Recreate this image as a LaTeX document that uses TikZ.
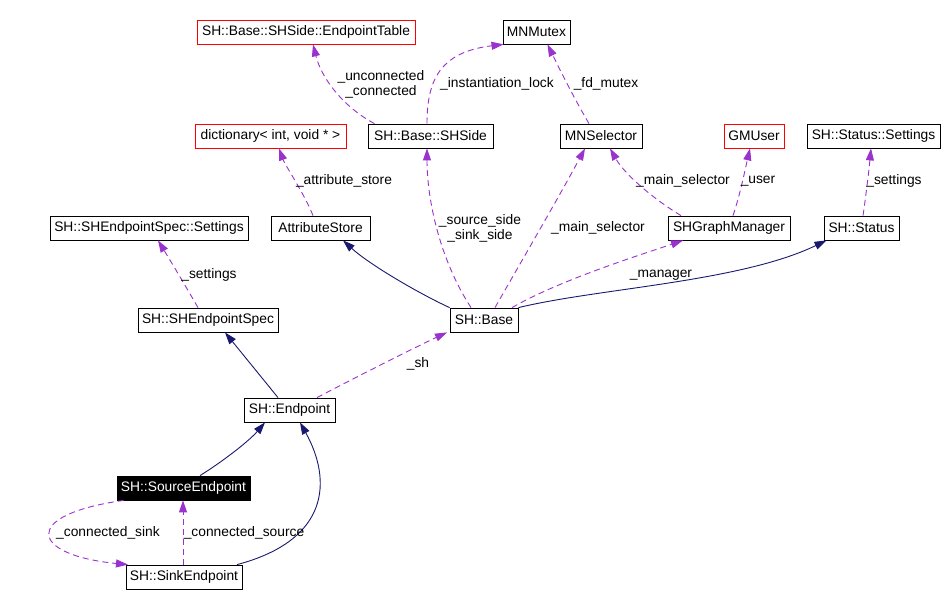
\documentclass[tikz,border=0pt]{standalone}
\usepackage{fontspec}
\setmainfont{Liberation Sans}
\usetikzlibrary{arrows.meta}
\definecolor{edgepurple}{HTML}{9A32CD}
\definecolor{edgenavy}{HTML}{191970}
\begin{document}
\begin{tikzpicture}[x=1pt,y=-1pt,
 cls/.style={draw=black, line width=0.8pt, minimum height=24pt, inner xsep=3pt, inner ysep=0pt, font=\fontsize{13.8}{15}\selectfont, text=black},
 redcls/.style={cls, draw=red},
 blackcls/.style={cls, fill=black, text=white},
 lbl/.style={font=\fontsize{13.8}{15}\selectfont, align=center, inner sep=0pt},
 usage/.style={draw=edgepurple, line width=0.9pt, dash pattern=on 6pt off 4pt, -{Triangle[length=12pt,width=8pt,fill=edgepurple]}},
 inherit/.style={draw=edgenavy, line width=0.9pt, -{Triangle[length=12pt,width=8pt,fill=edgenavy]}},
]
\useasboundingbox[fill=white] (0,0) rectangle (947,608);

% nodes
\node[redcls, minimum width=218pt] (tbl) at (306,32) {SH::Base::SHSide::EndpointTable};
\node[cls, minimum width=67pt] (mutex) at (536.5,32) {MNMutex};
\node[redcls, minimum width=151pt] (dict) at (270.5,136) {dictionary< int, void * >};
\node[cls, minimum width=125pt] (side) at (430.5,136) {SH::Base::SHSide};
\node[cls, minimum width=82pt] (sel) at (601,136) {MNSelector};
\node[redcls, minimum width=60pt] (gmu) at (754,136) {GMUser};
\node[cls, minimum width=133pt] (sset) at (873.5,136) {SH::Status::Settings};
\node[cls, minimum width=198pt] (eset) at (149,228) {SH::SHEndpointSpec::Settings};
\node[cls, minimum width=99pt] (attr) at (320.5,228) {AttributeStore};
\node[cls, minimum width=122pt] (gm) at (729,228) {SHGraphManager};
\node[cls, minimum width=75pt] (status) at (861.5,228) {SH::Status};
\node[cls, minimum width=140pt] (spec) at (208,320) {SH::SHEndpointSpec};
\node[cls, minimum width=68pt] (base) at (484,320) {SH::Base};
\node[cls, minimum width=91pt] (ep) at (289.5,410) {SH::Endpoint};
\node[blackcls, minimum width=133pt] (src) at (183.5,488) {SH::SourceEndpoint};
\node[cls, minimum width=116pt] (sink) at (184,577) {SH::SinkEndpoint};

% usage edges
\draw[usage] ([xshift=-56pt]side.north) .. controls (345,108) and (322,80) .. ([xshift=7pt]tbl.south);
\draw[usage] ([xshift=-3.5pt]side.north) .. controls (427,80) and (440,52) .. ([xshift=-33pt]mutex.south);
\draw[usage] ([xshift=-12pt]sel.north) .. controls (575,100) and (560,70) .. ([xshift=11pt]mutex.south);
\draw[usage] ([xshift=-7.5pt]attr.north) .. controls (305,195) and (285,165) .. ([xshift=8.5pt]dict.south);
\draw[usage] ([xshift=-13pt]base.north) .. controls (440,260) and (427,200) .. ([xshift=-3.5pt]side.south);
\draw[usage] ([xshift=11pt]base.north) .. controls (525,255) and (560,195) .. ([xshift=-16pt]sel.south);
\draw[usage] ([xshift=-48pt]gm.north) .. controls (655,200) and (625,175) .. ([xshift=9pt]sel.south);
\draw[usage] ([xshift=4pt]gm.north) .. controls (740,195) and (745,170) .. ([xshift=-4pt]gmu.south);
\draw[usage] ([xshift=1.5pt]status.north) .. controls (866,195) and (869,170) .. ([xshift=-2.5pt]sset.south);
\draw[usage] ([xshift=28pt]base.north) .. controls (560,280) and (640,255) .. ([xshift=-46pt]gm.south);
\draw[usage] ([xshift=-10pt]spec.north) .. controls (185,285) and (170,260) .. ([xshift=9pt]eset.south);
\draw[usage] ([xshift=27.5pt]ep.north) .. controls (360,375) and (420,345) .. ([xshift=-37pt]base.south);
\draw[usage] ([xshift=-1pt]sink.north) -- ([xshift=-0.5pt]src.south);
\draw[usage] ([xshift=-60pt]src.south) .. controls (20,515) and (30,555) .. ([xshift=-56pt]sink.north);

% inheritance edges
\draw[inherit] (base.north east) .. controls (600,288) and (740,282) .. ([xshift=-35pt]status.south);
\draw[inherit] (base.north west) .. controls (420,294) and (370,265) .. ([xshift=22.5pt]attr.south);
\draw[inherit] ([xshift=-11.5pt]ep.north) -- ([xshift=17pt]spec.south);
\draw[inherit] ([xshift=16.5pt]src.north) .. controls (225,460) and (250,440) .. ([xshift=-24.5pt]ep.south);
\draw[inherit] ([xshift=53pt]sink.north) .. controls (330,540) and (332,480) .. ([xshift=10.5pt]ep.south);

% labels
\node[lbl] (l1) at (381,84) {\_unconnected\\\_connected};
\node[lbl] (l2) at (497,84) {\_instantiation\_lock};
\node[lbl] (l3) at (606,84) {\_fd\_mutex};
\node[lbl] (l4) at (344,181) {\_attribute\_store};
\node[lbl] (l5) at (480,228) {\_source\_side\\\_sink\_side};
\node[lbl] (l6) at (598,228) {\_main\_selector};
\node[lbl] (l7) at (683,181) {\_main\_selector};
\node[lbl] (l8) at (758,181) {\_user};
\node[lbl] (l9) at (894,181) {\_settings};
\node[lbl] (l10) at (209,275) {\_settings};
\node[lbl] (l11) at (661,275) {\_manager};
\node[lbl] (l12) at (418,364) {\_sh};
\node[lbl] (l13) at (108,533) {\_connected\_sink};
\node[lbl] (l14) at (244,533) {\_connected\_source};
\end{tikzpicture}
\end{document}
